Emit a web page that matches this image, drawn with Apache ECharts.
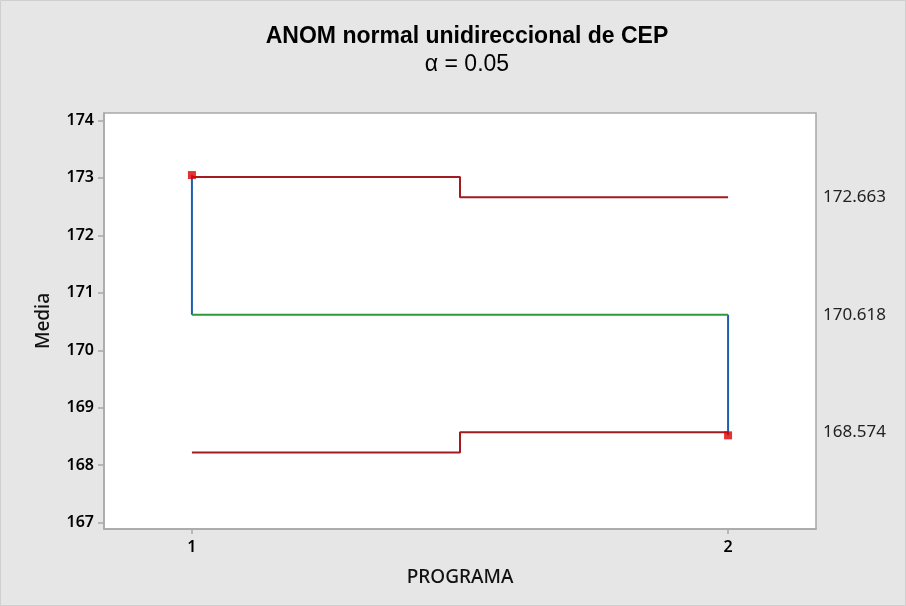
<!DOCTYPE html>
<html>
<head>
<meta charset="utf-8">
<script src="https://cdn.jsdelivr.net/npm/echarts@6/dist/echarts.min.js"></script>
<style>
  html, body { margin: 0; padding: 0; background: #e6e6e6; }
  #chart { width: 906px; height: 606px; }
</style>
</head>
<body>
<div id="chart"></div>
<script>
const programas = [1, 2];
const medias = [173.05, 168.52];
const limSuperior = [173.016, 172.663];
const limInferior = [168.221, 168.574];
const lineaCentral = 170.618;
const yTicks = [167, 168, 169, 170, 171, 172, 173, 174];
const etiquetasDerecha = [172.663, 170.618, 168.574];

const chart = echarts.init(document.getElementById('chart'))

// líneas verticales desde la media general hasta cada media
const verticales = []
programas.forEach((p, i) => {
  if (i > 0) verticales.push('-')
  verticales.push([p, lineaCentral], [p, medias[i]])
})

const yMin = 166.89
const yMax = 174.13

const option = {
  backgroundColor: '#e6e6e6',
  animation: false,
  title: {
    text: 'ANOM normal unidireccional de CEP',
    subtext: 'α = 0.05',
    left: 462,
    top: 20,
    textAlign: 'center',
    itemGap: 5,
    textStyle: { fontFamily: 'Liberation Sans', fontSize: 23, fontWeight: 'bold', color: '#000' },
    subtextStyle: { fontFamily: 'Liberation Sans', fontSize: 23, color: '#000' },
  },
  graphic: [{
    type: 'rect',
    shape: { x: 0.5, y: 0.5, width: 905, height: 605 },
    style: { fill: 'none', stroke: '#cfcfcf', lineWidth: 1 },
  }],
  grid: {
    left: 104, right: 90, top: 113, bottom: 77,
    show: true,
    backgroundColor: '#fff',
    borderColor: '#a8a8a8',
    borderWidth: 1.5,
  },
  xAxis: {
    type: 'value',
    min: 0.836,
    max: 2.164,
    name: 'PROGRAMA',
    nameLocation: 'middle',
    nameGap: 39,
    nameTextStyle: { fontFamily: 'Noto Sans', fontSize: 19, fontWeight: 500, color: '#111' },
    axisLine: { show: true, lineStyle: { color: '#a8a8a8', width: 1.5 } },
    axisTick: { show: true, length: 5, customValues: programas, lineStyle: { color: '#a8a8a8', width: 1.5 } },
    axisLabel: { customValues: programas, margin: 10, fontFamily: 'Noto Sans', fontSize: 16, fontWeight: 600, color: '#000' },
    splitLine: { show: false },
  },
  yAxis: [{
    type: 'value',
    min: yMin,
    max: yMax,
    name: 'Media',
    nameLocation: 'middle',
    nameGap: 51,
    nameTextStyle: { fontFamily: 'Noto Sans', fontSize: 19, fontWeight: 500, color: '#111' },
    axisLine: { show: true, lineStyle: { color: '#a8a8a8', width: 1.5 } },
    axisTick: { show: true, length: 6, customValues: yTicks, lineStyle: { color: '#a8a8a8', width: 1.5 } },
    axisLabel: { customValues: yTicks, margin: 10, fontFamily: 'Noto Sans', fontSize: 16, fontWeight: 600, color: '#000' },
    splitLine: { show: false },
  }, {
    type: 'value',
    position: 'right',
    min: yMin,
    max: yMax,
    axisLine: { show: false },
    axisTick: { show: false },
    axisLabel: {
      customValues: etiquetasDerecha,
      margin: 7,
      formatter: v => v.toFixed(3),
      fontFamily: 'Noto Sans', fontSize: 17, color: '#222',
    },
    splitLine: { show: false },
  }],
  series: [
    {
      type: 'line',
      data: verticales,
      symbol: 'none',
      connectNulls: false,
      lineStyle: { color: '#1f5fae', width: 2 },
      z: 2,
    },
    {
      type: 'line',
      data: programas.map(p => [p, lineaCentral]),
      symbol: 'none',
      lineStyle: { color: '#2b9a3c', width: 2 },
      z: 3,
    },
    {
      type: 'line',
      step: 'middle',
      data: programas.map((p, i) => [p, limSuperior[i]]),
      symbol: 'none',
      lineStyle: { color: '#a11b20', width: 2 },
      z: 4,
    },
    {
      type: 'line',
      step: 'middle',
      data: programas.map((p, i) => [p, limInferior[i]]),
      symbol: 'none',
      lineStyle: { color: '#a11b20', width: 2 },
      z: 4,
    },
    {
      type: 'scatter',
      data: programas.map((p, i) => [p, medias[i]]),
      symbol: 'rect',
      symbolSize: 8,
      itemStyle: { color: '#dd0000' },
      z: 5,
    },
  ],
}

chart.setOption(option)
</script>
</body>
</html>
